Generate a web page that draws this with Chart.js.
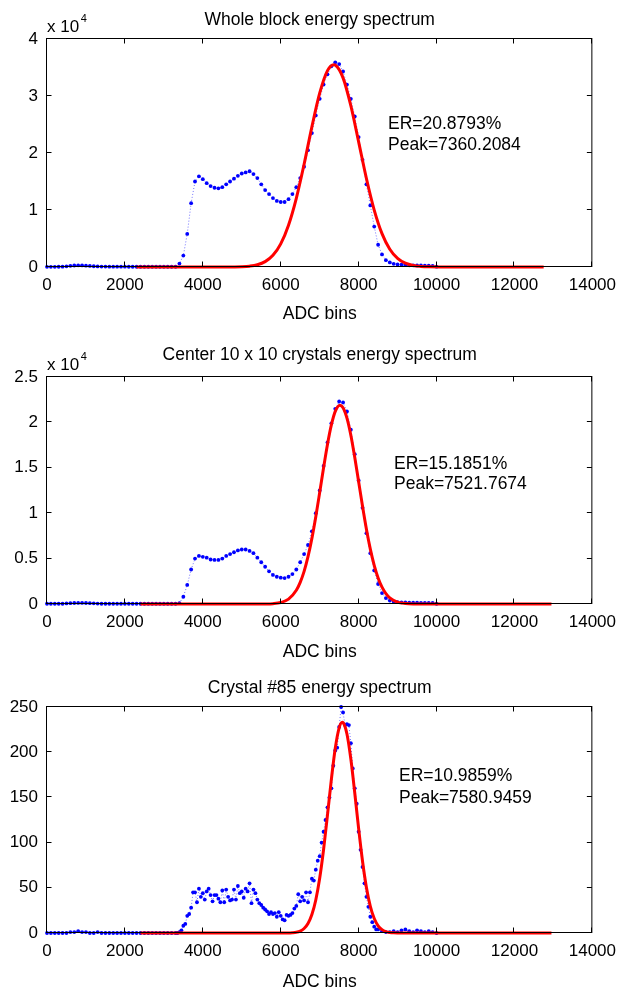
<!DOCTYPE html>
<html>
<head>
<meta charset="utf-8">
<title>Energy spectra</title>
<script src="https://cdn.jsdelivr.net/npm/chart.js@4.4.1/dist/chart.umd.min.js"></script>
<style>
    body { margin: 0; background: #fff; overflow: hidden; }
    canvas { position: absolute; left: 0; }
</style>
</head>
<body>
<canvas id="WholeCanvas" width="624" height="345" style="top:0px"></canvas>
<canvas id="CenterCanvas" width="624" height="345" style="top:330px"></canvas>
<canvas id="CrystalCanvas" width="624" height="345" style="top:660px"></canvas>
<script>
// ---- data ----
const xTickLabels = ['0', '2000', '4000', '6000', '8000', '10000', '12000', '14000'];
const wholeYTickLabels = ['0', '1', '2', '3', '4'];
const centerYTickLabels = ['0', '0.5', '1', '1.5', '2', '2.5'];
const crystalYTickLabels = ['0', '50', '100', '150', '200', '250'];

// ADC bin centres for the block / centre spectra
const adcBins = [
    0, 100, 200, 300, 400, 500, 600, 700, 800, 900,
    1000, 1100, 1200, 1300, 1400, 1500, 1600, 1700, 1800, 1900,
    2000, 2100, 2200, 2300, 2400, 2500, 2600, 2700, 2800, 2900,
    3000, 3100, 3200, 3300, 3400, 3500, 3600, 3700, 3800, 3900,
    4000, 4100, 4200, 4300, 4400, 4500, 4600, 4700, 4800, 4900,
    5000, 5100, 5200, 5300, 5400, 5500, 5600, 5700, 5800, 5900,
    6000, 6100, 6200, 6300, 6400, 6500, 6600, 6700, 6800, 6900,
    7000, 7100, 7200, 7300, 7400, 7500, 7600, 7700, 7800, 7900,
    8000, 8100, 8200, 8300, 8400, 8500, 8600, 8700, 8800, 8900,
    9000, 9100, 9200, 9300, 9400, 9500, 9600, 9700, 9800, 9900,
    10000
];

const wholeBlockCounts = [
    30, 30, 30, 40, 60, 120, 200, 260, 300, 280,
    240, 180, 130, 100, 80, 70, 60, 60, 50, 50,
    50, 40, 40, 40, 40, 40, 40, 40, 40, 40,
    40, 40, 40, 40, 600, 2000, 5800, 11200, 15000, 15900,
    15400, 14700, 14200, 13900, 13800, 14000, 14500, 15000, 15500, 16000,
    16400, 16600, 16800, 16300, 15600, 14500, 13500, 12800, 12100, 11600,
    11400, 11400, 11900, 12800, 14000, 15600, 17600, 20500, 23500, 26600,
    29500, 32000, 33800, 35200, 35900, 35600, 34300, 32000, 29500, 26400,
    22800, 18800, 14500, 10800, 7100, 3900, 2200, 1200, 800, 550,
    450, 400, 350, 300, 300, 280, 260, 250, 240, 200,
    50
];

const centerCounts = [
    30, 30, 30, 30, 30, 60, 90, 110, 120, 120,
    110, 90, 70, 50, 30, 30, 30, 30, 30, 30,
    30, 30, 30, 30, 30, 30, 30, 30, 30, 30,
    30, 30, 30, 30, 100, 800, 2100, 3800, 5000, 5300,
    5200, 5100, 4900, 4850, 4850, 5000, 5300, 5500, 5700, 5900,
    6000, 6000, 5850, 5600, 5100, 4600, 4100, 3600, 3200, 3000,
    2900, 2850, 3000, 3300, 3800, 4600, 5500, 6500, 8000, 10000,
    12500, 15200, 17800, 19900, 21500, 22300, 22200, 21200, 19200, 16500,
    13600, 10600, 7800, 5600, 3700, 2200, 1200, 650, 380, 250,
    200, 180, 170, 160, 150, 140, 130, 120, 120, 110,
    30
];

const crystalBins = [
    0, 100, 200, 300, 400, 500, 600, 700, 800, 900,
    1000, 1100, 1200, 1300, 1400, 1500, 1600, 1700, 1800, 1900,
    2000, 2100, 2200, 2300, 2400, 2500, 2600, 2700, 2800, 2900,
    3000, 3100, 3200, 3300,
    3350, 3400, 3450, 3500, 3550, 3600, 3650, 3700, 3750, 3800, 3850, 3900, 3950,
    4000, 4050, 4100, 4150, 4200, 4250, 4300, 4350, 4400, 4450,
    4500, 4550, 4600, 4650, 4700, 4750, 4800, 4850, 4900, 4950,
    5000, 5050, 5100, 5150, 5200, 5250, 5300, 5350, 5400, 5450,
    5500, 5550, 5600, 5650, 5700, 5750, 5800, 5850, 5900, 5950,
    6000, 6050, 6100, 6150, 6200, 6250, 6300, 6350, 6400, 6450,
    6500, 6550, 6600, 6650, 6700, 6750, 6800, 6850, 6900, 6950,
    7000, 7050, 7100, 7150, 7200, 7250, 7300, 7350, 7400, 7450,
    7500, 7550, 7600, 7650, 7700, 7750, 7800, 7850, 7900, 7950,
    8000, 8050, 8100, 8150, 8200, 8250, 8300, 8350, 8400, 8450, 8500,
    8600, 8700, 8800, 8900, 9000, 9100, 9200, 9300, 9400, 9500,
    9600, 9700, 9800, 9900, 10000
];

const crystalCounts = [
    0, 0, 0, 0, 0, 0, 1, 1, 2, 1,
    1, 0, 0, 1, 0, 0, 0, 0, 0, 0,
    0, 0, 0, 0, 0, 0, 0, 0, 0, 0,
    0, 0, 0, 0,
    0, 1, 3, 8, 10, 19, 21, 28, 45, 45, 34, 49, 40,
    44, 37, 46, 49, 42, 35, 42, 42, 38, 34,
    47, 34, 48, 40, 36, 37, 48, 37, 52, 44,
    46, 39, 49, 46, 55, 33, 48, 44, 37, 33,
    31, 28, 26, 24, 21, 23, 21, 22, 18, 23,
    19, 15, 14, 20, 19, 20, 22, 27, 30, 43,
    35, 40, 36, 45, 34, 45, 60, 58, 70, 80,
    85, 100, 112, 125, 139, 150, 160, 185, 202, 205,
    228, 250, 244, 230, 231, 230, 210, 182, 160, 143,
    112, 92, 73, 55, 40, 29, 18, 12, 7, 4, 4,
    2, 1, 1, 2, 1, 3, 4, 2, 1, 3,
    2, 1, 2, 1, 0
];

// fitted peaks (red curves)
const wholeFitBins = [2300, 4400, 4800, 5000, 5200, 5400, 5600, 5800, 6000, 6200, 6400, 6600, 6800, 7000, 7200, 7360,
    7400, 7600, 7800, 8000, 8200, 8400, 8600, 8800, 9000, 9200, 9400, 9600, 9800, 10200, 12750];
const wholeFitCounts = [0, 2, 16, 50, 150, 390, 940, 2050, 4060, 7330, 12050, 18030, 24580, 30490, 34450, 35500,
    35430, 33180, 28290, 21960, 15520, 9990, 5850, 3120, 1520, 670, 270, 100, 30, 2, 0];

const centerFitBins = [2400, 5200, 5600, 5800, 6000, 6200, 6400, 6500, 6600, 6700, 6800, 6900, 7000, 7100, 7200, 7300,
    7400, 7520, 7600, 7700, 7800, 7900, 8000, 8100, 8200, 8300, 8400, 8500, 8600, 8700, 8800, 9000, 9200, 9400, 9800, 12950];
const centerFitCounts = [0, 0, 10, 40, 160, 530, 1510, 2380, 3590, 5210, 7230, 9620, 12270, 15000, 17570, 19720,
    21220, 21900, 21620, 20470, 18590, 16160, 13470, 10770, 8240, 6050, 4260, 2870, 1850, 1150, 680, 210, 60, 10, 0, 0];

const crystalFitBins = [2400, 5800, 6200, 6300, 6400, 6500, 6600, 6700, 6800, 6900, 7000, 7100, 7200, 7300, 7400, 7500,
    7580, 7600, 7700, 7800, 7900, 8000, 8100, 8200, 8300, 8400, 8500, 8600, 8700, 8800, 8900, 9100, 12950];
const crystalFitCounts = [0, 0, 0.05, 0.33, 0.88, 2.18, 4.98, 10.5, 20.4, 36.5, 60.5, 92.4, 130.4, 170.0, 204.4, 227.0,
    233, 232.7, 220.2, 192.4, 155.1, 115.5, 79.4, 50.4, 29.5, 16.0, 8.0, 3.7, 1.56, 0.61, 0.22, 0.02, 0];

// ---- drawing ----
const FONT = "'Liberation Sans', Arial, Helvetica, sans-serif";

// MATLAB style box with inward ticks on all four sides
const boxPlugin = {
    id: 'boxPlugin',
    afterDraw(chart) {
        const { ctx, chartArea: a, scales: { x, y } } = chart;
        const L = a.left - 0.5, R = a.right - 0.5, T = a.top - 0.5, B = a.bottom - 0.5;
        ctx.save();
        ctx.strokeStyle = '#000';
        ctx.lineWidth = 1;
        ctx.strokeRect(L, T, R - L, B - T);
        ctx.beginPath();
        x.ticks.forEach(t => {
            const px = Math.round(x.getPixelForValue(t.value)) - 0.5;
            ctx.moveTo(px, B); ctx.lineTo(px, B - 5);
            ctx.moveTo(px, T); ctx.lineTo(px, T + 5);
        });
        y.ticks.forEach(t => {
            const py = Math.round(y.getPixelForValue(t.value)) - 0.5;
            ctx.moveTo(L, py); ctx.lineTo(L + 5, py);
            ctx.moveTo(R, py); ctx.lineTo(R - 5, py);
        });
        ctx.stroke();
        ctx.restore();
    }
};

// title, exponent and fit results
const textPlugin = {
    id: 'panelText',
    afterDraw(chart, args, opts) {
        const { ctx, chartArea: a } = chart;
        ctx.save();
        ctx.fillStyle = '#000';
        ctx.textBaseline = 'alphabetic';

        ctx.font = '17.5px ' + FONT;
        ctx.textAlign = 'center';
        ctx.fillText(opts.title, (a.left + a.right) / 2, opts.titleY);

        ctx.textAlign = 'left';
        if (opts.exponent) {
            ctx.font = '17px ' + FONT;
            ctx.fillText('x 10', a.left, a.top - 6.7);
            const w = ctx.measureText('x 10').width;
            ctx.font = '11px ' + FONT;
            ctx.fillText('4', a.left + w + 1.5, a.top - 17.5);
        }

        ctx.font = '17.5px ' + FONT;
        ctx.fillText(opts.er, opts.textX, opts.textY[0]);
        ctx.fillText(opts.peak, opts.textX, opts.textY[1]);
        ctx.restore();
    }
};

function toPoints(xs, ys) {
    return xs.map((x, i) => ({ x: x, y: ys[i] }));
}

function makePanel(p) {
    const ctx = document.getElementById(p.canvas).getContext('2d');
    const canvasHeight = ctx.canvas.height;
    // put the centre of "ADC bins" at p.xTitleY (canvas pixels)
    const xTitlePad = canvasHeight - p.xTitleY - 10.5;

    return new Chart(ctx, {
        type: 'line',
        data: {
            datasets: [{
                label: 'fit',
                data: toPoints(p.fitBins, p.fitCounts),
                borderColor: '#ff0000',
                borderWidth: 3,
                pointRadius: 0,
                cubicInterpolationMode: 'monotone',
                borderCapStyle: 'butt',
                clip: false,
                order: 0
            }, {
                label: 'data',
                data: toPoints(p.bins, p.counts),
                borderColor: 'rgba(0,0,255,0.55)',
                borderWidth: 1,
                borderDash: [1, 2],
                pointRadius: 1.9,
                pointBorderWidth: 0,
                pointBackgroundColor: '#0000ff',
                clip: false,
                order: 1
            }]
        },
        options: {
            animation: false,
            responsive: false,
            events: [],
            layout: { padding: { top: p.top, right: 25, bottom: 0, left: 0 } },
            plugins: {
                legend: { display: false },
                tooltip: { enabled: false },
                panelText: p.text
            },
            scales: {
                x: {
                    type: 'linear',
                    min: 0,
                    max: 14000,
                    grid: { display: false, drawTicks: false },
                    border: { display: false },
                    ticks: {
                        stepSize: 2000,
                        autoSkip: false,
                        maxRotation: 0,
                        padding: 8,
                        color: '#000',
                        font: { family: FONT, size: 17 },
                        callback: (v, i) => xTickLabels[i]
                    },
                    title: {
                        display: true,
                        text: 'ADC bins',
                        color: '#000',
                        font: { family: FONT, size: 17.5 },
                        padding: { top: 0, bottom: xTitlePad }
                    },
                    afterFit: s => { s.height = canvasHeight - p.bottom; }
                },
                y: {
                    min: 0,
                    max: p.yMax,
                    grid: { display: false, drawTicks: false },
                    border: { display: false },
                    ticks: {
                        stepSize: p.yStep,
                        padding: 9,
                        color: '#000',
                        font: { family: FONT, size: 17 },
                        callback: (v, i) => p.yLabels[i]
                    },
                    afterFit: s => { s.width = 47; }
                }
            }
        },
        plugins: [boxPlugin, textPlugin]
    });
}

makePanel({
    canvas: 'WholeCanvas', top: 39, bottom: 267, xTitleY: 314.5,
    yMax: 40000, yStep: 10000, yLabels: wholeYTickLabels,
    bins: adcBins, counts: wholeBlockCounts, fitBins: wholeFitBins, fitCounts: wholeFitCounts,
    text: { title: 'Whole block energy spectrum', titleY: 25, exponent: true,
            er: 'ER=20.8793%', peak: 'Peak=7360.2084', textX: 388, textY: [129, 149.5] }
});

makePanel({
    canvas: 'CenterCanvas', top: 47, bottom: 274, xTitleY: 322,
    yMax: 25000, yStep: 5000, yLabels: centerYTickLabels,
    bins: adcBins, counts: centerCounts, fitBins: centerFitBins, fitCounts: centerFitCounts,
    text: { title: 'Center 10 x 10 crystals energy spectrum', titleY: 30, exponent: true,
            er: 'ER=15.1851%', peak: 'Peak=7521.7674', textX: 394, textY: [139.3, 158.5] }
});

makePanel({
    canvas: 'CrystalCanvas', top: 47, bottom: 273, xTitleY: 322,
    yMax: 250, yStep: 50, yLabels: crystalYTickLabels,
    bins: crystalBins, counts: crystalCounts, fitBins: crystalFitBins, fitCounts: crystalFitCounts,
    text: { title: 'Crystal #85 energy spectrum', titleY: 33.3, exponent: false,
            er: 'ER=10.9859%', peak: 'Peak=7580.9459', textX: 399, textY: [120.7, 143.3] }
});
</script>
</body>
</html>
